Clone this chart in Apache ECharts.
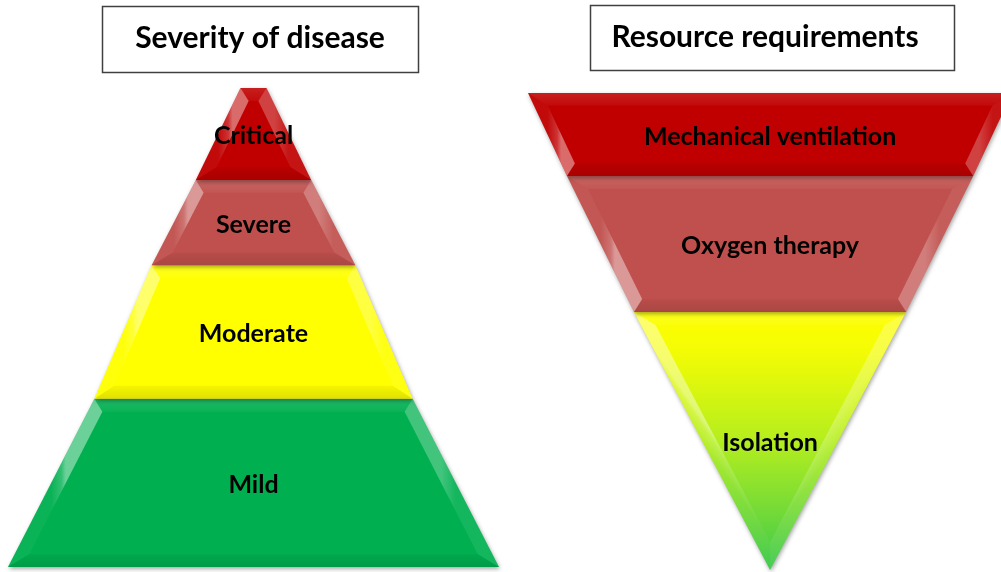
<!DOCTYPE html>
<html>
<head>
<meta charset="utf-8">
<title>Severity of disease / Resource requirements</title>
<script src="https://cdn.jsdelivr.net/npm/echarts@6/dist/echarts.min.js"></script>
<style>
    html, body { margin: 0; padding: 0; background: #fff; }
    #main { width: 1001px; height: 572px; }
</style>
</head>
<body>
<div id="main"></div>
<script>
// left pyramid, listed from the base up
var severityNames = ['Mild', 'Moderate', 'Severe', 'Critical'];
var severityLevels = [0, 35.1, 63.0, 80.8, 100];    // layer boundaries, % of height
var severityWidths = [100, 64.8, 41.5, 23.5, 5.3];  // width at each boundary, %

// right pyramid (upside down), listed from the point up
var resourceNames = ['Isolation', 'Oxygen therapy', 'Mechanical ventilation'];
var resourceLevels = [0, 54.1, 82.6, 100];
var resourceWidths = [0, 56.2, 83.9, 100];

var severityColors = ['#00B050', '#FFFF00', '#C0504D', '#C00000'];
var isolationFill = {
    type: 'linear', x: 0, y: 0, x2: 0, y2: 1,
    colorStops: [
        { offset: 0, color: '#FFFF00' },
        { offset: 0.15, color: '#F4FC04' },
        { offset: 0.5, color: '#B4EE1E' },
        { offset: 0.8, color: '#6ED83A' },
        { offset: 1, color: '#38C84A' }
    ]
};
var resourceColors = [isolationFill, '#C0504D', '#C00000'];

var buildLayers = function(names, levels, widths) {
    return names.map(function(name, i) {
        return { name: name, value: [levels[i], levels[i + 1], widths[i], widths[i + 1]] };
    });
};

// shrink a convex polygon by d pixels
var insetPolygon = function(pts, d) {
    var n = pts.length, area = 0, lines = [], out = [];
    for (var i = 0; i < n; i++) {
        var a = pts[i], b = pts[(i + 1) % n];
        area += a[0] * b[1] - b[0] * a[1];
    }
    var sign = area > 0 ? 1 : -1;
    for (var i = 0; i < n; i++) {
        var a = pts[i], b = pts[(i + 1) % n];
        var ex = b[0] - a[0], ey = b[1] - a[1];
        var len = Math.sqrt(ex * ex + ey * ey);
        var nx = -ey / len * sign, ny = ex / len * sign;
        lines.push({ p: [a[0] + nx * d, a[1] + ny * d], e: [ex, ey], n: [nx, ny] });
    }
    for (var i = 0; i < n; i++) {
        var l1 = lines[(i - 1 + n) % n], l2 = lines[i];
        var cross = l1.e[0] * l2.e[1] - l1.e[1] * l2.e[0];
        var t = ((l2.p[0] - l1.p[0]) * l2.e[1] - (l2.p[1] - l1.p[1]) * l2.e[0]) / cross;
        out.push([l1.p[0] + t * l1.e[0], l1.p[1] + t * l1.e[1]]);
    }
    return { pts: out, lines: lines };
};

var stripFill = function(kind, o1, o2, i1, i2) {
    var stops;
    if (kind == 'left') {
        stops = [{ offset: 0, color: 'rgba(255,255,255,0.04)' }, { offset: 0.7, color: 'rgba(255,255,255,0.2)' }, { offset: 1, color: 'rgba(255,255,255,0.42)' }];
    } else if (kind == 'right') {
        stops = [{ offset: 0, color: 'rgba(255,255,255,0.08)' }, { offset: 1, color: 'rgba(255,255,255,0.26)' }];
    } else if (kind == 'top') {
        stops = [{ offset: 0, color: 'rgba(255,255,255,0.12)' }, { offset: 1, color: 'rgba(255,255,255,0.04)' }];
    } else {
        stops = [{ offset: 0, color: 'rgba(0,0,0,0.12)' }, { offset: 1, color: 'rgba(0,0,0,0.04)' }];
    }
    return {
        type: 'linear',
        x: (o1[0] + o2[0]) / 2, y: (o1[1] + o2[1]) / 2,
        x2: (i1[0] + i2[0]) / 2, y2: (i1[1] + i2[1]) / 2,
        colorStops: stops,
        global: true
    };
};

var makeRenderItem = function(names, colors) {
    return function(params, api) {
        var y0 = api.value(0), y1 = api.value(1), w0 = api.value(2), w1 = api.value(3);
        var pts = [api.coord([-w1 / 2, y1]), api.coord([w1 / 2, y1]), api.coord([w0 / 2, y0])];
        if (w0 > 0) pts.push(api.coord([-w0 / 2, y0]));

        var h = Math.abs(pts[2][1] - pts[0][1]);
        var inner = insetPolygon(pts, Math.min(13, h * 0.15));
        var children = [{
            type: 'polygon',
            shape: { points: pts },
            style: {
                fill: colors[params.dataIndex],
                shadowBlur: 4,
                shadowColor: 'rgba(0,0,0,0.35)',
                shadowOffsetX: 1,
                shadowOffsetY: 2
            }
        }];

        var n = pts.length;
        for (var i = 0; i < n; i++) {
            var o1 = pts[i], o2 = pts[(i + 1) % n];
            var i1 = inner.pts[i], i2 = inner.pts[(i + 1) % n];
            var nv = inner.lines[i].n;
            var kind = nv[1] > 0.9 ? 'top' : (nv[1] < -0.9 ? 'bottom' : (nv[0] > 0 ? 'left' : 'right'));
            children.push({
                type: 'polygon',
                shape: { points: [o1, o2, i2, i1] },
                style: { fill: stripFill(kind, o1, o2, i1, i2) }
            });
        }

        var mid = api.coord([0, (y0 + y1) / 2]);
        children.push({
            type: 'text',
            z2: 10,
            style: {
                text: names[params.dataIndex],
                x: mid[0],
                y: mid[1] + 2,
                align: 'center',
                verticalAlign: 'middle',
                textAlign: 'center',
                textVerticalAlign: 'middle',
                fontFamily: 'Lato',
                fontWeight: 'bold',
                fontSize: 25,
                fill: '#000'
            }
        });
        return { type: 'group', children: children };
    };
};

var chart = echarts.init(document.getElementById('main'));

var titleStyle = function(text, x, y) {
    return {
        type: 'text',
        x: x,
        y: y,
        z: 10,
        style: {
            text: text,
            align: 'center',
            verticalAlign: 'middle',
            textAlign: 'center',
            textVerticalAlign: 'middle',
            fontFamily: 'Lato',
            fontWeight: 'bold',
            fontSize: 30,
            fill: '#000'
        }
    };
};

var option = {
    backgroundColor: '#fff',
    animation: false,
    grid: [
        { left: 8, top: 88, width: 491, height: 479 },
        // the wide top of the right shape runs off the page, so its axis is cut short on the right
        { left: 528, right: 0, top: 93, height: 477 }
    ],
    xAxis: [
        { gridIndex: 0, type: 'value', min: -50, max: 50, show: false },
        { gridIndex: 1, type: 'value', min: -50, max: 47.7, show: false }
    ],
    yAxis: [
        { gridIndex: 0, type: 'value', min: 0, max: 100, show: false },
        { gridIndex: 1, type: 'value', min: 0, max: 100, show: false }
    ],
    graphic: [
        { type: 'rect', shape: { x: 102.5, y: 6.5, width: 316, height: 66 }, style: { fill: '#fff', stroke: '#404040', lineWidth: 1.5 } },
        titleStyle('Severity of disease', 260, 38),
        { type: 'rect', shape: { x: 590.5, y: 5.5, width: 364, height: 65 }, style: { fill: '#fff', stroke: '#404040', lineWidth: 1.5 } },
        titleStyle('Resource requirements', 765, 37)
    ],
    series: [
        {
            type: 'custom',
            xAxisIndex: 0,
            yAxisIndex: 0,
            renderItem: makeRenderItem(severityNames, severityColors),
            data: buildLayers(severityNames, severityLevels, severityWidths)
        },
        {
            type: 'custom',
            xAxisIndex: 1,
            yAxisIndex: 1,
            renderItem: makeRenderItem(resourceNames, resourceColors),
            data: buildLayers(resourceNames, resourceLevels, resourceWidths)
        }
    ]
};

chart.setOption(option);
</script>
</body>
</html>
